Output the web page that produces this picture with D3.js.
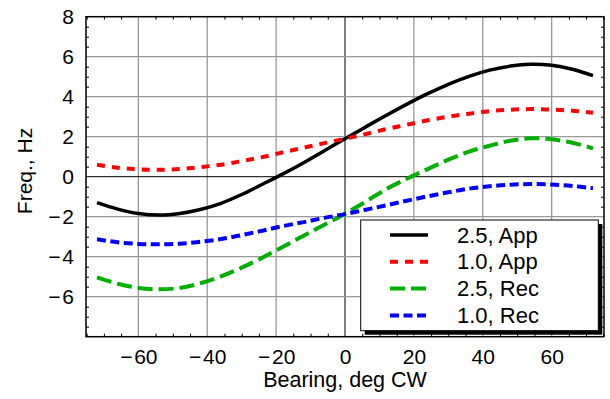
<!DOCTYPE html>
<html><head><meta charset="utf-8">
<script src="https://cdn.jsdelivr.net/npm/d3@7"></script>
<style>body{margin:0;background:#fff} text{font-family:"Liberation Sans",Arial,Helvetica,sans-serif;fill:#000}</style>
</head><body><svg id="c" width="610" height="399"></svg>
<script>
// ---- data ----
const bearings = [-72,-66,-60,-54,-48,-42,-36,-30,-24,-18,-12,-6,0,6,12,18,24,30,36,42,48,54,60,66,72];
const app25 = [-1.30,-1.62,-1.84,-1.92,-1.84,-1.64,-1.33,-0.89,-0.38,0.14,0.70,1.30,1.90,2.49,3.07,3.63,4.15,4.62,5.02,5.33,5.53,5.62,5.57,5.37,5.05];
const app10 = [0.60,0.45,0.37,0.35,0.38,0.48,0.60,0.78,0.98,1.22,1.45,1.68,1.90,2.13,2.38,2.60,2.82,3.00,3.15,3.28,3.35,3.38,3.35,3.30,3.20];
const rec25 = [-5.03,-5.35,-5.56,-5.63,-5.56,-5.33,-4.98,-4.55,-4.05,-3.50,-2.95,-2.40,-1.85,-1.25,-0.62,-0.10,0.38,0.85,1.25,1.55,1.80,1.92,1.87,1.70,1.42];
const rec10 = [-3.13,-3.28,-3.36,-3.38,-3.35,-3.25,-3.12,-2.92,-2.70,-2.47,-2.27,-2.06,-1.87,-1.65,-1.43,-1.20,-0.98,-0.78,-0.60,-0.48,-0.40,-0.37,-0.39,-0.46,-0.58];
const seriesNames = ["2.5, App","1.0, App","2.5, Rec","1.0, Rec"];
const seriesColors = ["#000000","#ff0000","#00b000","#0000ff"];
const seriesDash = [null,"8,7","15,6","9,4.5"];
const xTicks = [-60,-40,-20,0,20,40,60];
const yTicks = [-6,-4,-2,0,2,4,6,8];
const xLabel = "Bearing, deg CW";
const yLabel = "Freq., Hz";

// ---- layout ----
const L = 86, R = 604, T = 16.7, B = 336.7;
const svg = d3.select("#c");
const x = d3.scaleLinear().domain([-75.2, 75.2]).range([L, R]);
const y = d3.scaleLinear().domain([-8, 8]).range([B, T]);
const fmt = v => v < 0 ? "\u2212\u200A" + Math.abs(v) : String(v);

// grid
const grid = svg.append("g");
xTicks.forEach(v => {
  grid.append("line").attr("x1", x(v)).attr("x2", x(v)).attr("y1", T).attr("y2", B)
    .attr("stroke", v === 0 ? "#000" : "#999").attr("stroke-width", v === 0 ? 1 : 1.3);
});
yTicks.filter(v => v < 8).forEach(v => {
  grid.append("line").attr("x1", L).attr("x2", R).attr("y1", y(v)).attr("y2", y(v))
    .attr("stroke", v === 0 ? "#000" : "#999").attr("stroke-width", v === 0 ? 1 : 1.3);
});

// minor ticks via d3 axes
const minorX = d3.range(-75, 76, 5).filter(v => v % 20 !== 0);
const minorY = d3.range(-7.5, 8, 0.5).filter(v => v % 2 !== 0);
function styleMinor(g){ g.select(".domain").remove(); g.selectAll(".tick line").attr("stroke","#000").attr("stroke-width",1); }
svg.append("g").attr("transform",`translate(0,${B})`).call(d3.axisBottom(x).tickValues(minorX).tickSize(-3).tickFormat("")).call(styleMinor);
svg.append("g").attr("transform",`translate(0,${T})`).call(d3.axisTop(x).tickValues(minorX).tickSize(-3).tickFormat("")).call(styleMinor);
svg.append("g").attr("transform",`translate(${L},0)`).call(d3.axisLeft(y).tickValues(minorY).tickSize(-3).tickFormat("")).call(styleMinor);
svg.append("g").attr("transform",`translate(${R},0)`).call(d3.axisRight(y).tickValues(minorY).tickSize(-3).tickFormat("")).call(styleMinor);

// tick labels via axes
const xAx = svg.append("g").attr("transform",`translate(0,${B})`)
  .call(d3.axisBottom(x).tickValues(xTicks).tickSize(0).tickPadding(12).tickFormat(fmt));
xAx.select(".domain").remove();
xAx.selectAll("text").attr("font-size", 21).attr("font-family",null).style("fill","#000");
const yAx = svg.append("g").attr("transform",`translate(${L},0)`)
  .call(d3.axisLeft(y).tickValues(yTicks).tickSize(0).tickPadding(12).tickFormat(fmt));
yAx.select(".domain").remove();
yAx.selectAll("text").attr("font-size", 21).attr("font-family",null).style("fill","#000");

// curves
const seriesData = [app25, app10, rec25, rec10];
const line = d3.line().curve(d3.curveCatmullRom.alpha(0.5));
svg.append("clipPath").attr("id","pc").append("rect").attr("x",L).attr("y",T).attr("width",R-L).attr("height",B-T);
seriesData.forEach((vals, i) => {
  svg.append("path").attr("clip-path","url(#pc)")
    .attr("d", line(bearings.map((b, j) => [x(b), y(vals[j])])))
    .attr("fill","none").attr("stroke", seriesColors[i])
    .attr("stroke-width", i === 0 ? 3.5 : 4)
    .attr("stroke-dasharray", seriesDash[i]);
});

// frame
svg.append("rect").attr("x",L).attr("y",T).attr("width",R-L).attr("height",B-T)
  .attr("fill","none").attr("stroke","#000").attr("stroke-width",1.5);

// axis titles
svg.append("text").attr("x",(L+R)/2).attr("y",387).attr("text-anchor","middle").attr("font-size",21.5).text(xLabel);
svg.append("text").attr("transform","translate(32,171) rotate(-90)").attr("text-anchor","middle").attr("font-size",21).text(yLabel);

// legend
const lg = svg.append("g");
const lx = 360.7, ly = 220, lw = 237.6, lh = 110.7;
lg.append("rect").attr("x",lx+4).attr("y",ly+4).attr("width",lw).attr("height",lh).attr("fill","#000");
lg.append("rect").attr("x",lx).attr("y",ly).attr("width",lw).attr("height",lh).attr("fill","#fff").attr("stroke","#000").attr("stroke-width",1);
seriesNames.forEach((name, i) => {
  const cy = 235 + i*26.8;
  lg.append("line").attr("x1",390).attr("x2",428).attr("y1",cy).attr("y2",cy)
    .attr("stroke",seriesColors[i]).attr("stroke-width", i === 0 ? 3.5 : 4)
    .attr("stroke-dasharray", seriesDash[i]);
  lg.append("text").attr("x",457).attr("y",cy+7.5).attr("font-size",22).text(name);
});
</script></body></html>
